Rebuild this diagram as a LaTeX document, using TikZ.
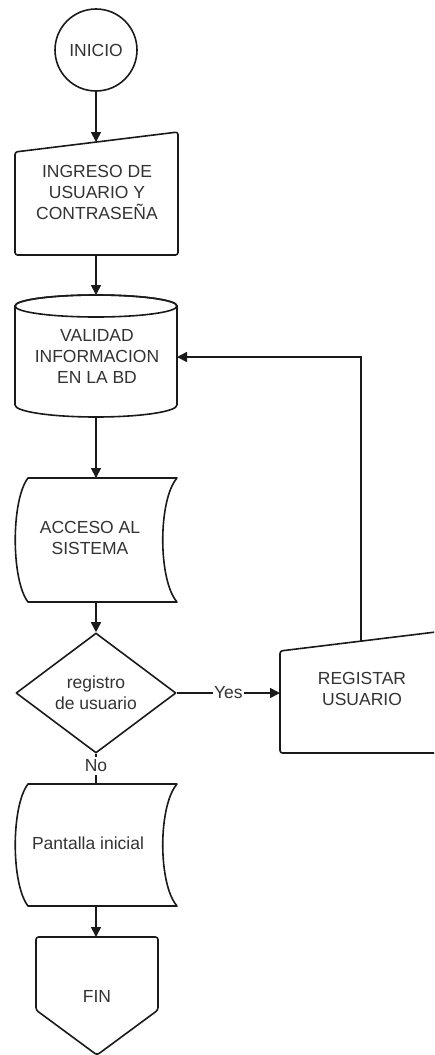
\documentclass[tikz,border=0pt]{standalone}
\usepackage{fontspec}
\setmainfont{Liberation Sans}
\usetikzlibrary{arrows.meta,shapes.geometric}
\definecolor{ln}{HTML}{1A1A1A}
\definecolor{tx}{HTML}{333333}
\begin{document}
\begin{tikzpicture}[x=1pt,y=-1pt,
  shp/.style={draw=ln, line width=1.6pt, fill=white, line join=round},
  txt/.style={text=tx, font=\fontsize{17.5}{21}\selectfont, align=center, inner sep=0pt},
  arr/.style={draw=ln, line width=1.6pt, -{Triangle[length=10pt,width=10pt]}},
  lne/.style={draw=ln, line width=1.6pt},
  lbl/.style={txt, fill=white, inner xsep=1pt, inner ysep=3pt}]
\useasboundingbox (0,0) rectangle (434,1055);
\clip (0,0) rectangle (434,1055);
\fill[white] (0,0) rectangle (434,1055);

% INICIO
\node[shp, circle, minimum size=82pt, inner sep=0pt, txt] (inicio) at (96,50) {INICIO};

% INGRESO (manual input)
\draw[shp, rounded corners=2.5pt] (15,152) -- (178,132) -- (178,255) -- (15,255) -- cycle;
\node[txt] (ingreso) at (97,192) {INGRESO DE\\USUARIO Y\\CONTRASE\~NA};
\coordinate (ingTop) at (96,142);
\coordinate (ingBot) at (96,255);

% VALIDAD (cylinder)
\draw[shp] (15,306) -- (15,405) arc[start angle=180, end angle=0, x radius=81, y radius=12]
  -- (177,306) arc[start angle=0, end angle=-180, x radius=81, y radius=11] -- cycle;
\draw[lne] (96,306) ellipse [x radius=81, y radius=11];
\node[txt] (validad) at (97,356) {VALIDAD\\INFORMACION\\EN LA BD};
\coordinate (cylTop) at (96,295);
\coordinate (cylBot) at (96,417);
\coordinate (cylRight) at (177,357);

% ACCESO (stored data)
\draw[shp] (28,478) -- (177,478) .. controls (158,500) and (158,580) .. (177,602)
  -- (28,602) .. controls (11,580) and (11,500) .. (28,478) -- cycle;
\node[txt] (acceso) at (90,538) {ACCESO AL\\SISTEMA};
\coordinate (accTop) at (96,478);

% decision
\node[shp, shape=diamond, minimum width=160pt, minimum height=120pt, inner sep=0pt, txt] (dec) at (96,693) {registro\\de usuario};
\coordinate (accBot) at (dec.north |- 0,602);

% REGISTAR (manual input, cut by the right edge)
\draw[shp, rounded corners=2.5pt] (280,651) -- (444,631) -- (444,753) -- (280,753) -- cycle;
\node[txt] (registrar) at (362,689) {REGISTAR\\USUARIO};
\coordinate (regLeft) at (280,693);
\coordinate (regTop) at (361,641);

% Pantalla inicial (stored data)
\draw[shp] (28,784) -- (177,784) .. controls (158,806) and (158,884) .. (177,906)
  -- (28,906) .. controls (11,884) and (11,806) .. (28,784) -- cycle;
\node[txt] (pantalla) at (88,843) {Pantalla inicial};
\coordinate (panTop) at (dec.south |- 0,784);
\coordinate (panBot) at (96,906);

% FIN (off-page connector)
\draw[shp, rounded corners=2.5pt] (36,937) -- (158,937) -- (158,1010) -- (97,1055) -- (36,1010) -- cycle;
\node[txt] (fin) at (97,996) {FIN};
\coordinate (finTop) at (96,937);

% connectors
\draw[arr] (inicio) -- (ingTop);
\draw[arr] (ingBot) -- (cylTop);
\draw[arr] (cylBot) -- (accTop);
\draw[arr] (accBot) -- (dec.north);
\draw[arr] (dec.east) -- node[lbl, pos=0.5] {Yes} (regLeft);
\draw[arr] (regTop) |- (cylRight);
\draw[lne] (dec.south) -- node[lbl, pos=0.4] {No} (panTop);
\draw[arr] (panBot) -- (finTop);
\end{tikzpicture}
\end{document}
